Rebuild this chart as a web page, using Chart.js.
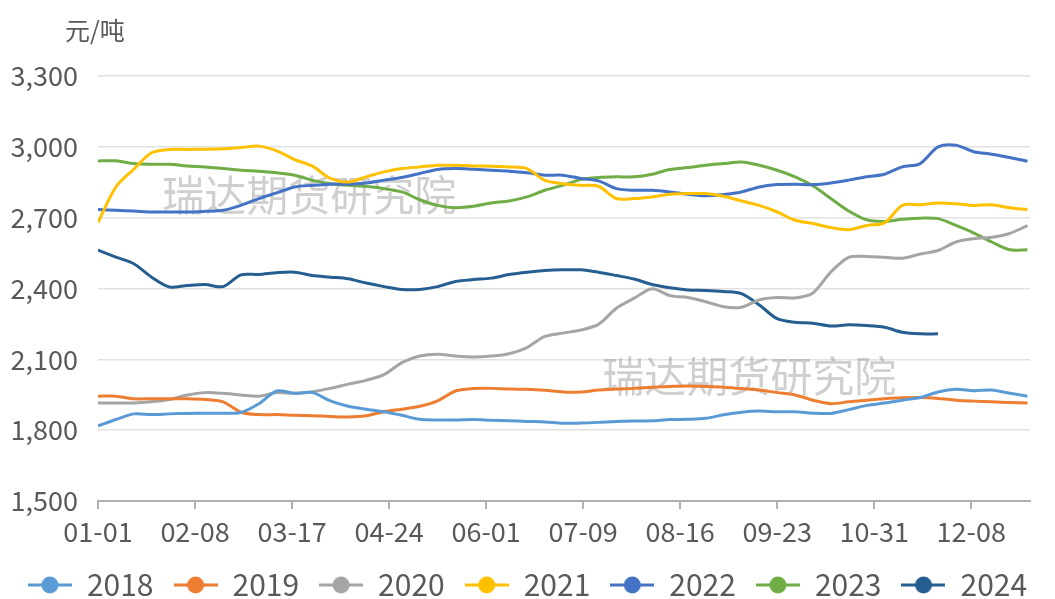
<!DOCTYPE html>
<html>
<head>
<meta charset="utf-8">
<script src="https://cdn.jsdelivr.net/npm/chart.js@4/dist/chart.umd.min.js"></script>
<style>
  html, body { margin: 0; padding: 0; background: #fff; }
  #wrap { width: 1055px; height: 599px; position: relative; }
</style>
</head>
<body>
<div id="wrap"><canvas id="priceChart"></canvas></div>
<script>
// 日序号（闰年日历，0 = 01-01），每 7 天取一个值
var sampleDays = [];
for (var d = 0; d <= 364; d += 7) sampleDays.push(d);

var tickLabels = ['01-01', '02-08', '03-17', '04-24', '06-01', '07-09', '08-16', '09-23', '10-31', '12-08'];
var tickStep = 38;

var yearNames = ['2018', '2019', '2020', '2021', '2022', '2023', '2024'];
var lineColors = ['#5B9BD5', '#ED7D31', '#A5A5A5', '#FFC000', '#4472C4', '#70AD47', '#255E91'];

var v2018 = [1818, 1845, 1869, 1866, 1869, 1871, 1872, 1872, 1875, 1912, 1966, 1956, 1959,
             1924, 1901, 1889, 1878, 1863, 1846, 1843, 1843, 1845, 1842, 1840, 1837, 1835,
             1829, 1830, 1833, 1837, 1839, 1840, 1845, 1846, 1850, 1865, 1876, 1881, 1878,
             1878, 1872, 1871, 1887, 1905, 1915, 1927, 1938, 1962, 1973, 1967, 1970, 1956, 1944];
var v2019 = [1944, 1944, 1933, 1933, 1933, 1933, 1930, 1920, 1876, 1866, 1866, 1863, 1861,
             1858, 1856, 1861, 1878, 1889, 1901, 1924, 1966, 1976, 1977, 1974, 1973, 1969,
             1962, 1962, 1970, 1974, 1977, 1982, 1985, 1987, 1985, 1982, 1976, 1970, 1959,
             1949, 1927, 1912, 1920, 1927, 1933, 1937, 1938, 1934, 1927, 1923, 1920, 1917, 1915];
var v2020 = [1915, 1915, 1915, 1920, 1930, 1949, 1959, 1956, 1949, 1944, 1959, 1956, 1963,
             1977, 1995, 2011, 2035, 2086, 2114, 2122, 2114, 2110, 2114, 2124, 2150, 2197,
             2211, 2224, 2248, 2316, 2359, 2399, 2370, 2362, 2344, 2323, 2321, 2352, 2362,
             2360, 2381, 2470, 2532, 2536, 2532, 2528, 2546, 2561, 2597, 2611, 2617, 2633, 2666];
var v2021 = [2680, 2830, 2905, 2975, 2989, 2989, 2990, 2992, 2997, 3003, 2983, 2946, 2918,
             2866, 2851, 2873, 2894, 2908, 2915, 2922, 2922, 2919, 2918, 2915, 2908, 2858,
             2844, 2837, 2833, 2781, 2781, 2788, 2799, 2802, 2802, 2791, 2771, 2752, 2724,
             2689, 2675, 2658, 2649, 2667, 2678, 2752, 2755, 2762, 2759, 2752, 2755, 2742, 2734];
var v2022 = [2735, 2731, 2728, 2724, 2724, 2724, 2727, 2731, 2752, 2781, 2805, 2830, 2837,
             2842, 2842, 2847, 2859, 2870, 2887, 2904, 2908, 2905, 2901, 2897, 2890, 2880,
             2880, 2866, 2856, 2823, 2816, 2816, 2809, 2799, 2793, 2798, 2809, 2830, 2840,
             2842, 2840, 2847, 2859, 2873, 2884, 2915, 2929, 3000, 3007, 2979, 2969, 2955, 2939];
var v2023 = [2940, 2941, 2929, 2926, 2926, 2919, 2915, 2908, 2901, 2897, 2890, 2880, 2858,
             2844, 2837, 2833, 2823, 2809, 2776, 2752, 2742, 2748, 2762, 2771, 2788, 2816,
             2837, 2861, 2870, 2873, 2873, 2884, 2904, 2912, 2922, 2929, 2936, 2922, 2901,
             2873, 2835, 2781, 2728, 2691, 2684, 2693, 2698, 2696, 2667, 2635, 2597, 2564, 2564];
// 2024 年只到 11 月下旬
var v2024 = [2562, 2533, 2505, 2448, 2406, 2413, 2417, 2408, 2458, 2459, 2467, 2469, 2455,
             2448, 2441, 2423, 2408, 2396, 2396, 2408, 2430, 2438, 2444, 2459, 2469, 2476,
             2479, 2479, 2469, 2455, 2440, 2417, 2403, 2394, 2392, 2387, 2378, 2330, 2272,
             2257, 2253, 2241, 2246, 2243, 2236, 2215, 2208, 2208];

var yearValues = [v2018, v2019, v2020, v2021, v2022, v2023, v2024];

var fontFamily = '"Noto Sans CJK SC", "Liberation Sans", sans-serif';
var textColor = '#595959';

// 图例里的“线+圆点”标记
function legendMarker(color) {
  var c = document.createElement('canvas');
  c.width = 44; c.height = 20;
  var g = c.getContext('2d');
  g.strokeStyle = color;
  g.lineWidth = 3;
  g.beginPath(); g.moveTo(0, 10); g.lineTo(44, 10); g.stroke();
  g.fillStyle = color;
  g.beginPath(); g.arc(22, 10, 8.5, 0, Math.PI * 2); g.fill();
  return c;
}

var datasets = yearNames.map(function (name, k) {
  return {
    label: name,
    data: yearValues[k].map(function (v, i) { return { x: sampleDays[i], y: v }; }),
    borderColor: lineColors[k],
    backgroundColor: lineColors[k],
    borderWidth: 3,
    pointRadius: 0,
    pointStyle: legendMarker(lineColors[k]),
    tension: 0.3,
    fill: false
  };
});

// 水印
var watermark = {
  id: 'watermark',
  beforeDatasetsDraw: function (chart) {
    var a = chart.chartArea, ctx = chart.ctx;
    ctx.save();
    ctx.font = '42px ' + fontFamily;
    ctx.fillStyle = 'rgba(140,140,140,0.42)';
    ctx.textBaseline = 'middle';
    ctx.fillText('瑞达期货研究院', a.left + a.width * 0.069, a.top + a.height * 0.281);
    ctx.fillText('瑞达期货研究院', a.left + a.width * 0.541, a.top + a.height * 0.707);
    ctx.restore();
  }
};

// 左上角单位
var unitLabel = {
  id: 'unitLabel',
  afterDraw: function (chart) {
    var ctx = chart.ctx, a = chart.chartArea;
    ctx.save();
    ctx.font = '25px ' + fontFamily;
    ctx.fillStyle = textColor;
    ctx.textBaseline = 'middle';
    ctx.fillText('元/吨', a.left - 33, a.top - 46);
    ctx.restore();
  }
};

new Chart(document.getElementById('priceChart'), {
  type: 'line',
  data: { datasets: datasets },
  plugins: [watermark, unitLabel],
  options: {
    responsive: true,
    maintainAspectRatio: false,
    animation: false,
    locale: 'en-US',
    layout: { padding: { left: 0, right: 0, top: 76, bottom: -11 } },
    scales: {
      x: {
        type: 'linear',
        min: 0,
        max: 365,
        afterFit: function (s) { s.height = 49; },
        ticks: {
          stepSize: tickStep,
          includeBounds: false,
          autoSkip: false,
          maxRotation: 0,
          color: textColor,
          font: { family: fontFamily, size: 27 },
          padding: 7,
          callback: function (v) { return tickLabels[Math.round(v / tickStep)] || ''; }
        },
        grid: { drawOnChartArea: false, drawTicks: true, tickLength: 8, color: '#b0b0b0', lineWidth: 2 },
        border: { color: '#b0b0b0', width: 2 }
      },
      y: {
        min: 1500,
        max: 3300,
        afterFit: function (s) { s.width = 98; },
        ticks: {
          stepSize: 300,
          color: textColor,
          font: { family: fontFamily, size: 27 },
          padding: 20
        },
        grid: { color: '#e2e2e2', lineWidth: 1.5, drawTicks: false },
        border: { display: false }
      },
      // 右侧留白
      yRight: {
        position: 'right',
        min: 1500,
        max: 3300,
        afterFit: function (s) { s.width = 25; },
        ticks: { display: false },
        grid: { drawOnChartArea: false, drawTicks: false },
        border: { display: false }
      }
    },
    plugins: {
      title: { display: false },
      tooltip: { enabled: false },
      legend: {
        position: 'bottom',
        labels: {
          usePointStyle: true,
          pointStyleWidth: 44,
          padding: 20,
          color: textColor,
          font: { family: fontFamily, size: 30 }
        }
      }
    }
  }
});
</script>
</body>
</html>
